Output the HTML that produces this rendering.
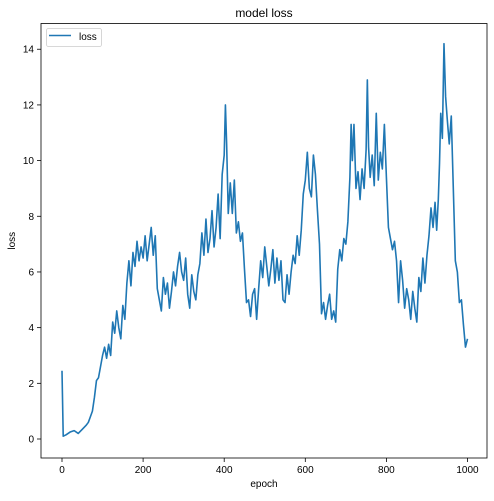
<!DOCTYPE html>
<html><head><meta charset="utf-8"><style>
body{margin:0;background:#fff;font-family:"Liberation Sans","DejaVu Sans",sans-serif}
</style></head><body>
<svg id="c" width="494" height="496" xmlns="http://www.w3.org/2000/svg"></svg>
<script>
const epochs=[0,3,10,20,30,40,50,60,65,70,75,80,85,90,95,100,105,110,115,120,125,130,135,140,145,150,155,160,165,170,175,180,185,190,195,200,205,210,215,220,225,230,235,240,245,250,255,260,265,270,275,280,285,290,295,300,305,310,315,320,325,330,335,340,345,350,355,360,365,370,375,380,385,390,395,400,403,406,410,415,420,425,430,435,440,445,450,455,460,465,470,475,480,485,490,495,500,505,510,515,520,525,530,535,540,545,550,555,560,565,570,575,580,585,590,595,600,605,610,615,620,625,630,635,640,645,650,655,660,665,670,675,680,685,690,695,700,705,710,713,716,720,725,730,735,740,745,750,753,756,760,765,770,775,780,785,790,795,800,805,810,815,820,825,830,835,840,845,850,855,860,865,870,875,880,885,890,895,900,905,910,915,920,924,928,931,934,938,942,946,950,955,960,965,970,975,980,985,990,995,1000];
const loss=[2.45,0.1,0.15,0.25,0.3,0.2,0.35,0.5,0.6,0.8,1.0,1.5,2.1,2.2,2.6,3.0,3.3,2.9,3.4,3.0,4.2,3.8,4.6,4.0,3.6,4.8,4.3,5.6,6.4,5.5,6.7,6.2,7.1,6.4,6.9,6.5,7.3,6.4,7.0,7.6,6.6,7.3,5.4,5.0,4.6,5.8,5.2,5.6,4.7,5.3,6.0,5.5,6.2,6.7,6.0,5.7,6.5,5.2,4.7,5.9,5.3,5.0,5.9,6.3,7.4,6.6,7.9,6.7,7.2,8.2,6.9,7.6,8.8,7.2,9.5,10.2,12.0,10.6,8.1,9.2,8.1,9.3,7.4,7.8,7.1,7.4,6.1,4.9,5.0,4.4,5.2,5.4,4.3,5.4,6.4,5.8,6.9,6.2,5.5,6.1,6.8,5.6,6.5,5.7,6.4,5.0,4.9,5.9,5.2,6.0,6.6,6.3,7.3,6.6,7.5,8.8,9.3,10.3,9.0,8.7,10.2,9.5,8.2,7.0,4.5,4.9,4.3,4.8,5.2,4.3,4.6,4.2,6.1,6.8,6.4,7.2,7.0,7.8,9.4,11.3,10.0,11.3,9.0,9.6,8.6,9.7,9.0,10.4,12.9,10.5,9.4,10.2,9.1,11.7,9.3,10.3,9.7,11.3,9.4,7.6,7.2,6.8,7.1,6.4,4.9,6.4,5.7,4.7,5.4,5.0,4.3,5.3,4.7,4.2,5.8,5.3,6.5,5.6,6.6,7.3,8.3,7.6,8.5,7.5,8.6,9.9,11.7,10.8,14.2,12.3,11.5,10.6,11.6,9.0,6.4,6.0,4.9,5.0,4.1,3.3,3.6,2.9,2.8,3.2,3.3];
const xTicks=[0,200,400,600,800,1000];
const yTicks=[0,2,4,6,8,10,12,14];
const NS="http://www.w3.org/2000/svg";
const svg=document.getElementById('c');
const L=41,R=487,T=23.5,B=458;
const xS=e=>62+e*0.4055;
const yS=v=>439-v*27.84;
function el(t,a,p){const n=document.createElementNS(NS,t);for(const k in a)n.setAttribute(k,a[k]);(p||svg).appendChild(n);return n;}
const title=el('text',{x:(L+R)/2,y:17,'text-anchor':'middle','font-size':12,fill:'#000'});title.textContent='model loss';


xTicks.forEach(t=>{const g=el('g',{});


el('line',{x1:xS(t),x2:xS(t),y1:B,y2:B+4,stroke:'#000','stroke-width':0.8},g);
const tx=el('text',{x:xS(t),y:B+15,'text-anchor':'middle','font-size':10,fill:'#000'},g);tx.textContent=t;});
yTicks.forEach(t=>{const g=el('g',{});


el('line',{x1:L-4,x2:L,y1:yS(t),y2:yS(t),stroke:'#000','stroke-width':0.8},g);
const tx=el('text',{x:L-7,y:yS(t)+3.5,'text-anchor':'end','font-size':10,fill:'#000'},g);tx.textContent=t;});
const xl=el('text',{x:(L+R)/2,y:487,'text-anchor':'middle','font-size':10,fill:'#000'});xl.textContent='epoch';


const yl=el('text',{x:15,y:(T+B)/2,'text-anchor':'middle','font-size':10,fill:'#000',transform:`rotate(-90 15 ${(T+B)/2})`});yl.textContent='loss';


const line=el('polyline',{points:epochs.map((e,i)=>xS(e)+','+yS(loss[i])).join(' '),fill:'none',stroke:'#1f77b4','stroke-width':1.6,'stroke-linejoin':'round'});


const fr=el('rect',{x:L,y:T,width:R-L,height:B-T,fill:'none',stroke:'#000','stroke-width':0.8});


const lg=el('g',{});


el('rect',{x:46.5,y:28.5,width:55,height:18,rx:2,fill:'#fff',stroke:'#ccc','stroke-width':0.8},lg);
el('line',{x1:49,x2:71,y1:35.5,y2:35.5,stroke:'#1f77b4','stroke-width':1.5},lg);
const lt=el('text',{x:79,y:40,'font-size':10,fill:'#000'},lg);lt.textContent='loss';
</script>
</body></html>
